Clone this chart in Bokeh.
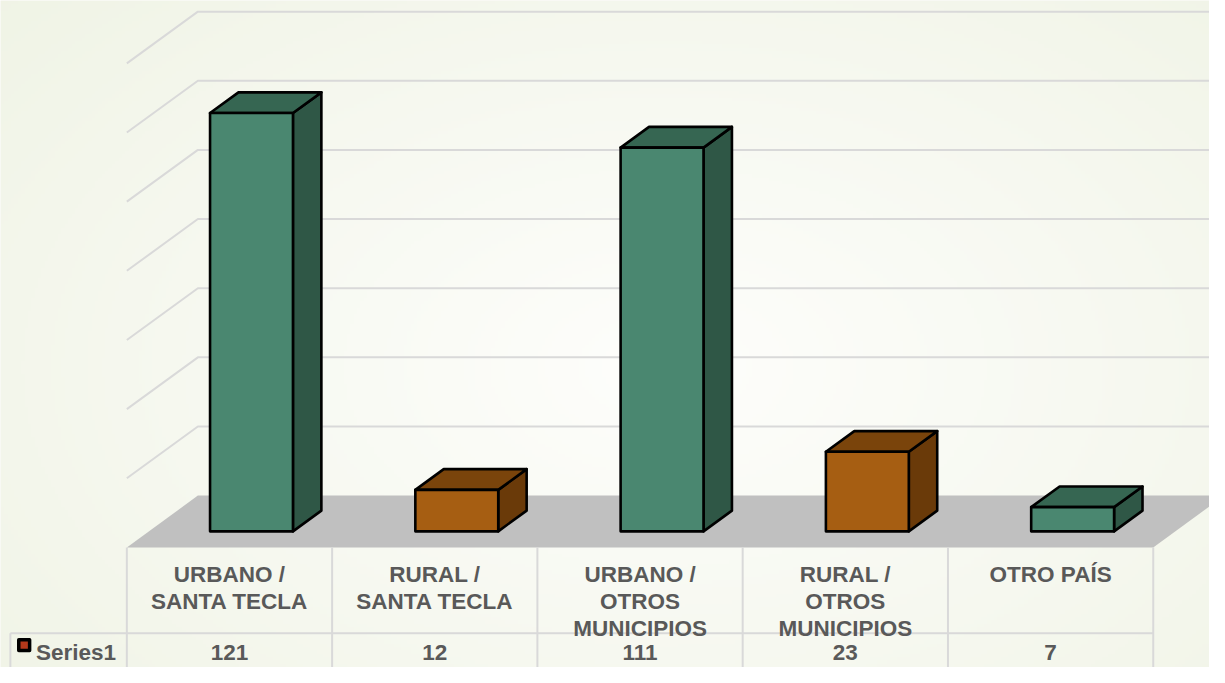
import numpy as np
from bokeh.plotting import figure
from bokeh.models import Range1d
from bokeh.embed import file_html
from bokeh.resources import INLINE
from bokeh.core.properties import value

# ---------------- data ----------------
categories = ["URBANO /\nSANTA TECLA", "RURAL /\nSANTA TECLA",
              "URBANO /\nOTROS\nMUNICIPIOS", "RURAL /\nOTROS\nMUNICIPIOS",
              "OTRO PAÍS"]
series_name = "Series1"
values = [121, 12, 111, 23, 7]
grid_ticks = [0, 20, 40, 60, 80, 100, 120, 140]

# ---------------- style ----------------
front_colors = ["#4a8770", "#a65e12", "#4a8770", "#a65e12", "#4a8770"]
top_colors = ["#366652", "#7a440b", "#366652", "#7a440b", "#366652"]
side_colors = ["#2f5746", "#6a3a09", "#2f5746", "#6a3a09", "#2f5746"]
text_color = "#595959"
grid_color = "#d9d9d9"
floor_color = "#c0c0c0"
FONT = value("Liberation Sans")
FSIZE = "22.5px"

# ---------------- layout (reference px -> data units) ----------------
W, H = 1209, 667           # canvas; shows the 1225 x 683 design area
REF_W, REF_H = 1225, 683
OX, OY = 128, 560          # design position of front-left floor corner
PX = 208.0                 # px per category
PY = 3.54                  # px per value unit
DX = 72.0 / PX             # depth offset (categories)
DY = 53.0 / PY             # depth offset (value units)
BAR_W = 84.0 / PX
D0, D1 = 0.31, 0.71        # bar depth span as fraction of floor depth


def cx(sx):
    return (sx - OX) / PX


def vy(sy):
    return (OY - sy) / PY


x0, x1 = cx(0), cx(REF_W)
y1, y0 = vy(0), vy(REF_H)

p = figure(width=W, height=H, output_backend="svg", toolbar_location=None,
           x_range=Range1d(x0, x1), y_range=Range1d(y0, y1),
           x_axis_location=None, y_axis_location=None, min_border=0)
p.grid.visible = False
p.outline_line_color = None
p.background_fill_color = "#f7f8f2"
p.border_fill_color = "#f7f8f2"

# background soft radial gradient
ny, nx = 200, 360
gx, gy = np.meshgrid(np.linspace(0, 1, nx), np.linspace(0, 1, ny))
r = np.clip(np.sqrt(((gx - 0.55) / 0.8) ** 2 + ((gy - 0.45) / 0.9) ** 2), 0, 1)
c_in = np.array([254, 254, 252])
c_out = np.array([239, 243, 228])
img = np.empty((ny, nx), dtype=np.uint32)
view = img.view(dtype=np.uint8).reshape((ny, nx, 4))
for k in range(3):
    view[:, :, k] = (c_in[k] + (c_out[k] - c_in[k]) * r).astype(np.uint8)
view[:, :, 3] = 255
p.image_rgba(image=[img], x=x0, y=y0, dw=x1 - x0, dh=y1 - y0)

n = len(categories)

# back wall + side wall gridlines
gxs, gys = [], []
for t in grid_ticks[1:]:
    gxs.append([0, DX, n + DX + 0.5])
    gys.append([t, t + DY, t + DY])
p.multi_line(gxs, gys, line_color=grid_color, line_width=2)

# floor
p.patch([0, n, n + DX, DX], [0, 0, DY, DY], fill_color=floor_color, line_color=None)

# data table lines
row_v = vy(648)
left_c = cx(10)
p.multi_line([[i, i] for i in range(n + 1)], [[0, y0 - 5] for _ in range(n + 1)],
             line_color=grid_color, line_width=2)
p.multi_line([[left_c, n], [left_c, left_c]], [[row_v, row_v], [row_v, y0 - 5]],
             line_color=grid_color, line_width=2)

# 3D bars
fx, fy, tx, ty, sx_, sy_ = [], [], [], [], [], []
bdx, bdy = (D1 - D0) * DX, (D1 - D0) * DY
for i, v in enumerate(values):
    L = i + 0.5 - BAR_W / 2 + D0 * DX
    R = L + BAR_W
    b = D0 * DY
    t = b + v
    fx.append([L, R, R, L]); fy.append([b, b, t, t])
    tx.append([L, R, R + bdx, L + bdx]); ty.append([t, t, t + bdy, t + bdy])
    sx_.append([R, R + bdx, R + bdx, R]); sy_.append([b, b + bdy, t + bdy, t])
for xs, ys, cols in ((sx_, sy_, side_colors), (tx, ty, top_colors), (fx, fy, front_colors)):
    p.patches(xs, ys, fill_color=cols, line_color="black", line_width=2.6,
              line_join="round")

# category labels in the table header
lx, ly, lt = [], [], []
for i, cat in enumerate(categories):
    for j, line in enumerate(cat.split("\n")):
        lx.append(i + 0.5)
        ly.append(vy(587.5 + 27.6 * j))
        lt.append(line)
p.text(x=lx, y=ly, text=lt, text_align="center", text_baseline="alphabetic",
       text_font=FONT, text_font_style="bold", text_font_size=FSIZE,
       text_color=text_color)

# values row
ROW_BASE = 668
p.text(x=[i + 0.5 for i in range(n)], y=[vy(ROW_BASE)] * n, text=[str(v) for v in values],
       text_align="center", text_baseline="alphabetic", text_font=FONT,
       text_font_style="bold", text_font_size=FSIZE, text_color=text_color)

# legend key + series name
p.rect(x=[cx(24)], y=[vy(ROW_BASE - 8)], width=11 / PX, height=11 / PY,
       fill_color="#b3391b", line_color="black", line_width=3.5,
       line_join="round")
p.text(x=[cx(36)], y=[vy(ROW_BASE)], text=[series_name], text_align="left",
       text_baseline="alphabetic", text_font=FONT, text_font_style="bold",
       text_font_size=FSIZE, text_color=text_color)

open("out.html", "w").write(file_html(p, INLINE))
